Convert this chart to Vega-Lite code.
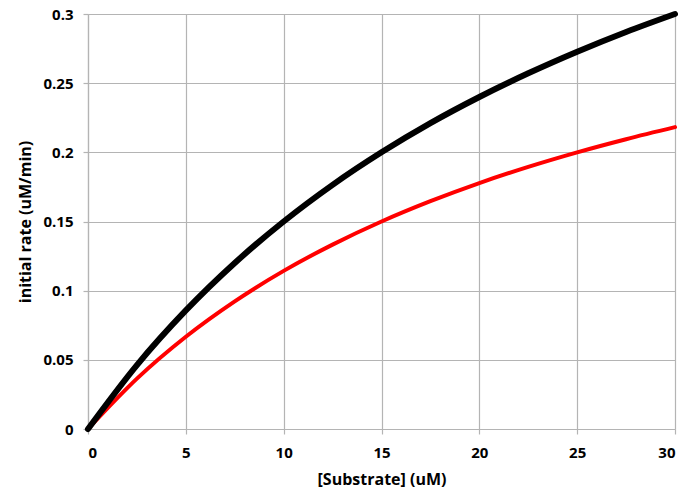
{
  "$schema": "https://vega.github.io/schema/vega-lite/v6.json",
  "autosize": "none",
  "width": 587,
  "height": 415,
  "padding": {"left": 88, "top": 14, "right": 22, "bottom": 67},
  "background": "white",
  "config": {
    "view": {"stroke": null},
    "axis": {
      "labelFont": "Open Sans",
      "titleFont": "Open Sans",
      "labelFontWeight": "bold",
      "titleFontWeight": "bold",
      "labelFontSize": 15,
      "titleFontSize": 16,
      "labelColor": "black",
      "titleColor": "black",
      "gridColor": "#b4b4b4",
      "gridWidth": 1.2,
      "domainColor": "#b4b4b4",
      "domainWidth": 1.2,
      "tickColor": "#b4b4b4",
      "tickSize": 5,
      "tickWidth": 1.2
    }
  },
  "data": {
    "values": [
      {"s": 0, "rate": 0.0, "series": "A"},
      {"s": 2.5, "rate": 0.0462, "series": "A"},
      {"s": 5, "rate": 0.0857, "series": "A"},
      {"s": 7.5, "rate": 0.12, "series": "A"},
      {"s": 10, "rate": 0.15, "series": "A"},
      {"s": 12.5, "rate": 0.1765, "series": "A"},
      {"s": 15, "rate": 0.2, "series": "A"},
      {"s": 17.5, "rate": 0.2211, "series": "A"},
      {"s": 20, "rate": 0.24, "series": "A"},
      {"s": 22.5, "rate": 0.2571, "series": "A"},
      {"s": 25, "rate": 0.2727, "series": "A"},
      {"s": 27.5, "rate": 0.287, "series": "A"},
      {"s": 30, "rate": 0.3, "series": "A"},
      {"s": 0, "rate": 0.0, "series": "B"},
      {"s": 2.5, "rate": 0.0364, "series": "B"},
      {"s": 5, "rate": 0.0667, "series": "B"},
      {"s": 7.5, "rate": 0.0923, "series": "B"},
      {"s": 10, "rate": 0.1143, "series": "B"},
      {"s": 12.5, "rate": 0.1333, "series": "B"},
      {"s": 15, "rate": 0.15, "series": "B"},
      {"s": 17.5, "rate": 0.1647, "series": "B"},
      {"s": 20, "rate": 0.1778, "series": "B"},
      {"s": 22.5, "rate": 0.1895, "series": "B"},
      {"s": 25, "rate": 0.2, "series": "B"},
      {"s": 27.5, "rate": 0.2095, "series": "B"},
      {"s": 30, "rate": 0.2182, "series": "B"}
    ]
  },
  "layer": [
    {
      "transform": [{"filter": "datum.series === 'B'"}],
      "mark": {"type": "line", "color": "#ff0000", "strokeWidth": 4, "interpolate": "monotone", "strokeCap": "round"},
      "encoding": {
        "x": {"field": "s", "type": "quantitative", "scale": {"domain": [0, 30]},
              "axis": {"title": "[Substrate] (uM)", "values": [0, 5, 10, 15, 20, 25, 30], "format": "~g", "labelPadding": 11, "titlePadding": 11}},
        "y": {"field": "rate", "type": "quantitative", "scale": {"domain": [0, 0.3]},
              "axis": {"title": "initial rate (uM/min)", "values": [0, 0.05, 0.1, 0.15, 0.2, 0.25, 0.3], "format": "~g", "labelPadding": 10, "titlePadding": 9}}
      }
    },
    {
      "transform": [{"filter": "datum.series === 'A'"}],
      "mark": {"type": "line", "color": "#000000", "strokeWidth": 6, "interpolate": "monotone", "strokeCap": "round"},
      "encoding": {
        "x": {"field": "s", "type": "quantitative"},
        "y": {"field": "rate", "type": "quantitative"}
      }
    }
  ]
}
